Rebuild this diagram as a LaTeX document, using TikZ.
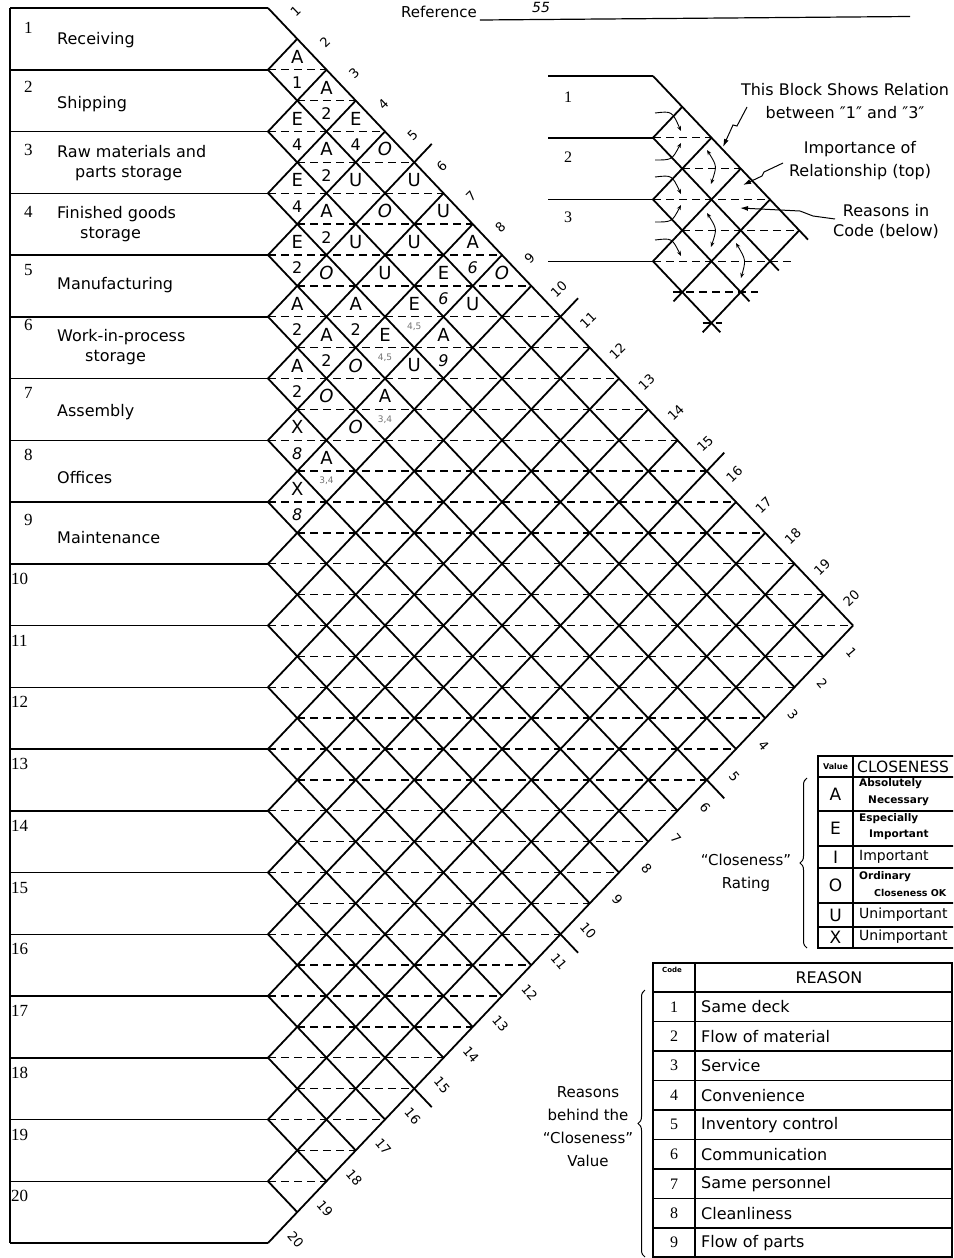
\documentclass[tikz,border=0pt]{standalone}
\usepackage{fontspec}
\setmainfont{DejaVu Sans}
\newfontfamily\numfont{Liberation Serif}
\usetikzlibrary{arrows.meta,decorations.pathreplacing}

\def\xo{268}    % left corner of the matrix
\def\yt{8}      % top of row 1
\def\cw{29.25}  % half width of a diamond
\def\rh{61.75}  % row height
\def\xm{653}    % corner of the small sample chart
\def\ym{76}

\begin{document}
\begin{tikzpicture}[x=1pt, y=-1pt,
  frame/.style={line width=1.5pt},
  grid/.style={line width=1.8pt},
  half/.style={line width=1.4pt, dash pattern=on 8pt off 5pt},
  rownum/.style={font=\numfont\fontsize{17}{18}\selectfont, anchor=west, inner sep=0pt},
  rowname/.style={font=\fontsize{16}{20}\selectfont, anchor=west, align=left, inner sep=0pt},
  edgenum/.style={font=\fontsize{13}{13}\selectfont, inner sep=0pt},
  rate/.style={font=\fontsize{18}{18}\selectfont, inner sep=0pt},
  code/.style={font=\fontsize{16}{16}\selectfont, inner sep=0pt},
  smallcode/.style={font=\fontsize{9}{9}\selectfont, text=black!55, inner sep=0pt},
  note/.style={font=\fontsize{16}{23}\selectfont, align=center, inner sep=0pt},
  pointer/.style={line width=0.9pt, -{Stealth[length=5pt,width=4pt]}},
  twoway/.style={line width=0.9pt, {Stealth[length=5pt,width=4pt]}-{Stealth[length=5pt,width=4pt]}},
  leader/.style={line width=1pt, -{Latex[length=8pt,width=5pt]}},
  table/.style={line width=1.2pt},
  brace/.style={line width=1pt, decorate, decoration={brace, amplitude=7pt}},
]
\useasboundingbox (0,0) rectangle (953,1258);
\clip (0,0) rectangle (953,1258);

% reference line at the top
\node[font=\fontsize{15}{15}\selectfont, anchor=west, inner sep=0pt] (reftxt) at (401,12) {Reference};
\draw[line width=1.2pt] (reftxt.south east) ++(3,2) coordinate (refstart) -- (910,16.5);
\node[font=\itshape\fontsize{14}{14}\selectfont, inner sep=0pt] (refnum) at (541,7) {55};

% frame of the activity list
\draw[frame] (10,\yt) -- (\xo,\yt);
\foreach \k in {1,...,20}
  \draw[frame] (10,{\yt+\k*\rh}) -- (\xo,{\yt+\k*\rh});
\draw[frame] (10,\yt) -- (10,{\yt+20*\rh});

% dashed lines through the diamonds
\foreach \k in {1,...,19} {
  \pgfmathsetmacro\m{min(\k,20-\k)}
  \draw[half] (\xo,{\yt+\k*\rh}) -- ({\xo+2*\m*\cw},{\yt+\k*\rh});
}
\foreach \k in {1,...,18} {
  \pgfmathsetmacro\m{min(\k+0.5,19.5-\k)}
  \draw[half] ({\xo+\cw},{\yt+(\k+0.5)*\rh}) -- ({\xo+2*\m*\cw},{\yt+(\k+0.5)*\rh});
}

% diagonal grid
\foreach \k in {0,...,19}
  \draw[grid] (\xo,{\yt+\k*\rh}) -- ++({(20-\k)*\cw},{(20-\k)*\rh/2});
\foreach \k in {1,...,20}
  \draw[grid] (\xo,{\yt+\k*\rh}) -- ++({\k*\cw},{-\k*\rh/2});

% ticks after every fifth number
\foreach \t in {5,10,15} {
  \draw[grid] ({\xo+\t*\cw},{\yt+\t*\rh/2}) -- ++({0.6*\cw},{-0.3*\rh});
  \draw[grid] ({\xo+(20-\t)*\cw},{\yt+10*\rh+\t*\rh/2}) -- ++({0.6*\cw},{0.3*\rh});
}

% numbers along both outer edges
\foreach \k in {1,...,20} {
  \node[edgenum, rotate=44] (top\k) at ({\xo+(\k-0.5)*\cw+13},{\yt+(\k-0.5)*\rh/2-12}) {\k};
  \node[edgenum, rotate=-50] (bot\k) at ({\xo+(20.5-\k)*\cw+13},{\yt+10*\rh+(\k-0.5)*\rh/2+12}) {\k};
}

% row numbers and names
\foreach \k/\y in {1/28, 2/87, 3/150, 4/212, 5/270, 6/325, 7/393, 8/455, 9/520}
  \node[rownum] (num\k) at (24,\y) {\k};
\foreach \k in {10,...,20}
  \node[rownum] (num\k) at (11,{\yt+(\k-1)*\rh+15}) {\k};

\foreach \k/\txt/\y in {1/Receiving/40, 2/Shipping/104, 5/Manufacturing/285,
                        7/Assembly/412, 8/Offices/478, 9/Maintenance/538}
  \node[rowname] (name\k) at (57,\y) {\txt};
\node[rowname] (name3) at (57,163) {Raw materials and\\\hspace*{18pt}parts storage};
\node[rowname] (name4) at (57,224) {Finished goods\\\hspace*{23pt}storage};
\node[rowname] (name6) at (57,347) {Work-in-process\\\hspace*{28pt}storage};

% ratings (top) and reasons (bottom)
\foreach \i/\j/\r/\c in {1/2/A/1, 1/3/A/2, 1/4/E/4, 1/8/A/\textit{6}, 2/3/E/4, 2/4/A/2,
    2/8/E/\textit{6}, 3/4/E/4, 3/5/A/2, 3/9/A/\textit{9}, 4/5/E/2, 4/7/A/2, 5/6/A/2,
    5/7/A/2, 6/7/A/2, 7/8/X/\textit{8}, 8/9/X/\textit{8}} {
  \node[rate] (rate\i\j) at ({\xo+(\j-\i)*\cw},{\yt+(\i+\j-1)*\rh/2-13}) {\r};
  \node[code] (code\i\j) at ({\xo+(\j-\i)*\cw},{\yt+(\i+\j-1)*\rh/2+13}) {\c};
}
\foreach \i/\j/\r in {1/5/\textit{O}, 1/6/U, 1/7/U, 1/9/\textit{O}, 2/5/U, 2/6/\textit{O},
    2/7/U, 2/9/U, 3/6/U, 3/7/U, 4/6/\textit{O}, 4/9/U, 5/8/\textit{O}, 6/8/\textit{O},
    6/9/\textit{O}}
  \node[rate] (rate\i\j) at ({\xo+(\j-\i)*\cw},{\yt+(\i+\j-1)*\rh/2-13}) {\r};
\foreach \i/\j/\r/\a/\b in {3/8/E/4/5, 4/8/E/4/5, 5/9/A/3/4, 7/9/A/3/4} {
  \node[rate] (rate\i\j) at ({\xo+(\j-\i)*\cw},{\yt+(\i+\j-1)*\rh/2-13}) {\r};
  \node[smallcode] (code\i\j) at ({\xo+(\j-\i)*\cw},{\yt+(\i+\j-1)*\rh/2+10}) {\a,\b};
}

% sample chart in the corner
\draw[frame] (548,\ym) -- (\xm,\ym);
\foreach \k in {1,2,3}
  \draw[frame] (548,{\ym+\k*\rh}) -- (\xm,{\ym+\k*\rh});
\foreach \k/\y in {1/97, 2/157, 3/217}
  \node[font=\numfont\fontsize{16}{16}\selectfont, inner sep=0pt] (sample\k) at (568,\y) {\k};
\draw[grid] (\xm,\ym) -- ++({5.3*\cw},{5.3*\rh/2});
\draw[grid] (\xm,{\ym+\rh}) -- ++({4.3*\cw},{4.3*\rh/2});
\draw[grid] (\xm,{\ym+2*\rh}) -- ++({3.3*\cw},{3.3*\rh/2});
\draw[grid] (\xm,{\ym+3*\rh}) -- ++({2.3*\cw},{2.3*\rh/2});
\foreach \k in {1,2,3}
  \draw[grid] (\xm,{\ym+\k*\rh}) -- ++({\k*\cw},{-\k*\rh/2});
\draw[grid] ({\xm+0.7*\cw},{\ym+3.65*\rh}) -- ({\xm+4*\cw},{\ym+2*\rh});
\draw[grid] ({\xm+1.7*\cw},{\ym+4.15*\rh}) -- ({\xm+5*\cw},{\ym+2.5*\rh});
\draw[half] (\xm,{\ym+\rh}) -- ({\xm+2*\cw},{\ym+\rh});
\draw[half] ({\xm+\cw},{\ym+1.5*\rh}) -- ({\xm+3*\cw},{\ym+1.5*\rh});
\draw[half] (\xm,{\ym+2*\rh}) -- ({\xm+4*\cw},{\ym+2*\rh});
\draw[half] ({\xm+\cw},{\ym+2.5*\rh}) -- ({\xm+5*\cw},{\ym+2.5*\rh});
\draw[half] (\xm,{\ym+3*\rh}) -- ({\xm+4.75*\cw},{\ym+3*\rh});
\draw[half] ({\xm+0.7*\cw},{\ym+3.5*\rh}) -- ({\xm+3.6*\cw},{\ym+3.5*\rh});
\draw[half] ({\xm+1.7*\cw},{\ym+4*\rh}) -- ({\xm+2.35*\cw},{\ym+4*\rh});

% reading arrows
\draw[pointer] (655,113) .. controls (672,111) .. (681,131);
\draw[pointer] (655,160) .. controls (672,160) .. (681,143);
\draw[pointer] (655,177) .. controls (672,175) .. (681,194);
\draw[pointer] (655,222) .. controls (672,222) .. (681,205);
\draw[pointer] (655,240) .. controls (672,238) .. (681,256);
\draw[twoway] (707,150) .. controls (717,166) .. (711,184);
\draw[twoway] (707,213) .. controls (717,229) .. (711,247);
\draw[twoway] (736,243) .. controls (746,260) .. (741,278);

% notes with leaders
\node[note] (blocktxt) at (845,101) {This Block Shows Relation\\between ″1″ and ″3″};
\node[note] (imptxt) at (860,161) {Importance of\\Relationship (top)};
\node[note, font=\fontsize{16}{20}\selectfont] (codetxt) at (886,221) {Reasons in\\Code (below)};
\coordinate (blockfrom) at (747,107);
\coordinate (blockto) at (723,147);
\coordinate (impfrom) at (783,163);
\coordinate (impto) at (743,185);
\coordinate (codefrom) at (835,219);
\coordinate (codeto) at (740,208);
\draw[leader] (blockfrom) -- (737,126) -- (733,125) -- (blockto);
\draw[leader] (impfrom) -- (764,172) -- (762,176) -- (impto);
\draw[leader] (codefrom) -- (813,216) -- (800,211) -- (codeto);

% closeness rating table
\draw[table] (818,756) rectangle (975,948);
\draw[table] (853,756) -- (853,948);
\foreach \y in {777,811,846,868,903,927}
  \draw[table] (818,\y) -- (975,\y);
\node[font=\bfseries\fontsize{8}{8}\selectfont, inner sep=0pt] (valuehead) at (835.5,767) {Value};
\node[font=\fontsize{15.5}{15.5}\selectfont, anchor=west, inner sep=0pt] (closehead) at (857,767) {CLOSENESS};
\foreach \v/\y in {A/794, E/828, I/857, O/885, U/915, X/937}
  \node[font=\fontsize{17}{17}\selectfont, inner sep=0pt] (val\v) at (835.5,\y) {\v};
\foreach \n/\txt/\y in {a/Absolutely/784, e/Especially/819, o/Ordinary/877}
  \node[font=\bfseries\fontsize{10.5}{10.5}\selectfont, anchor=west, inner sep=0pt] (first\n) at (859,\y) {\txt};
\foreach \n/\txt/\x/\y in {a/Necessary/868/801, e/Important/869/835}
  \node[font=\bfseries\fontsize{10.5}{10.5}\selectfont, anchor=west, inner sep=0pt] (second\n) at (\x,\y) {\txt};
\node[font=\bfseries\fontsize{9.5}{9.5}\selectfont, anchor=west, inner sep=0pt] (secondo) at (874,893) {Closeness OK};
\foreach \n/\txt/\y in {i/Important/857, u/Unimportant/915, x/Unimportant/937}
  \node[font=\fontsize{14}{14}\selectfont, anchor=west, inner sep=0pt] (mean\n) at (859,\y) {\txt};
\draw[brace] (807,948) -- (807,778);
\node[font=\fontsize{15}{23}\selectfont, align=center, inner sep=0pt] (ratingtxt) at (746,873) {“Closeness”\\Rating};

% reason table
\draw[table] (653,963) rectangle (952,1257);
\draw[table] (695,963) -- (695,1257);
\foreach \k in {0,...,8}
  \draw[table] (653,{992+\k*29.5}) -- (952,{992+\k*29.5});
\node[font=\bfseries\fontsize{7}{7}\selectfont, inner sep=0pt] (codehead) at (672,970) {Code};
\node[font=\fontsize{16}{16}\selectfont, inner sep=0pt] (reasonhead) at (829,978) {REASON};
\foreach \k/\txt in {1/Same deck, 2/Flow of material, 3/Service, 4/Convenience,
                     5/Inventory control, 6/Communication, 7/Same personnel,
                     8/Cleanliness, 9/Flow of parts} {
  \node[font=\numfont\fontsize{16}{16}\selectfont, inner sep=0pt] (rcode\k) at (674,{992+(\k-0.5)*29.5}) {\k};
  \node[font=\fontsize{16}{16}\selectfont, anchor=west, inner sep=0pt] (reason\k) at (701,{992+(\k-0.5)*29.5}) {\txt};
}
\draw[brace] (645,1257) -- (645,990);
\node[font=\fontsize{15}{23}\selectfont, align=center, inner sep=0pt] (behindtxt) at (588,1127) {Reasons\\behind the\\“Closeness”\\Value};
\end{tikzpicture}
\end{document}
